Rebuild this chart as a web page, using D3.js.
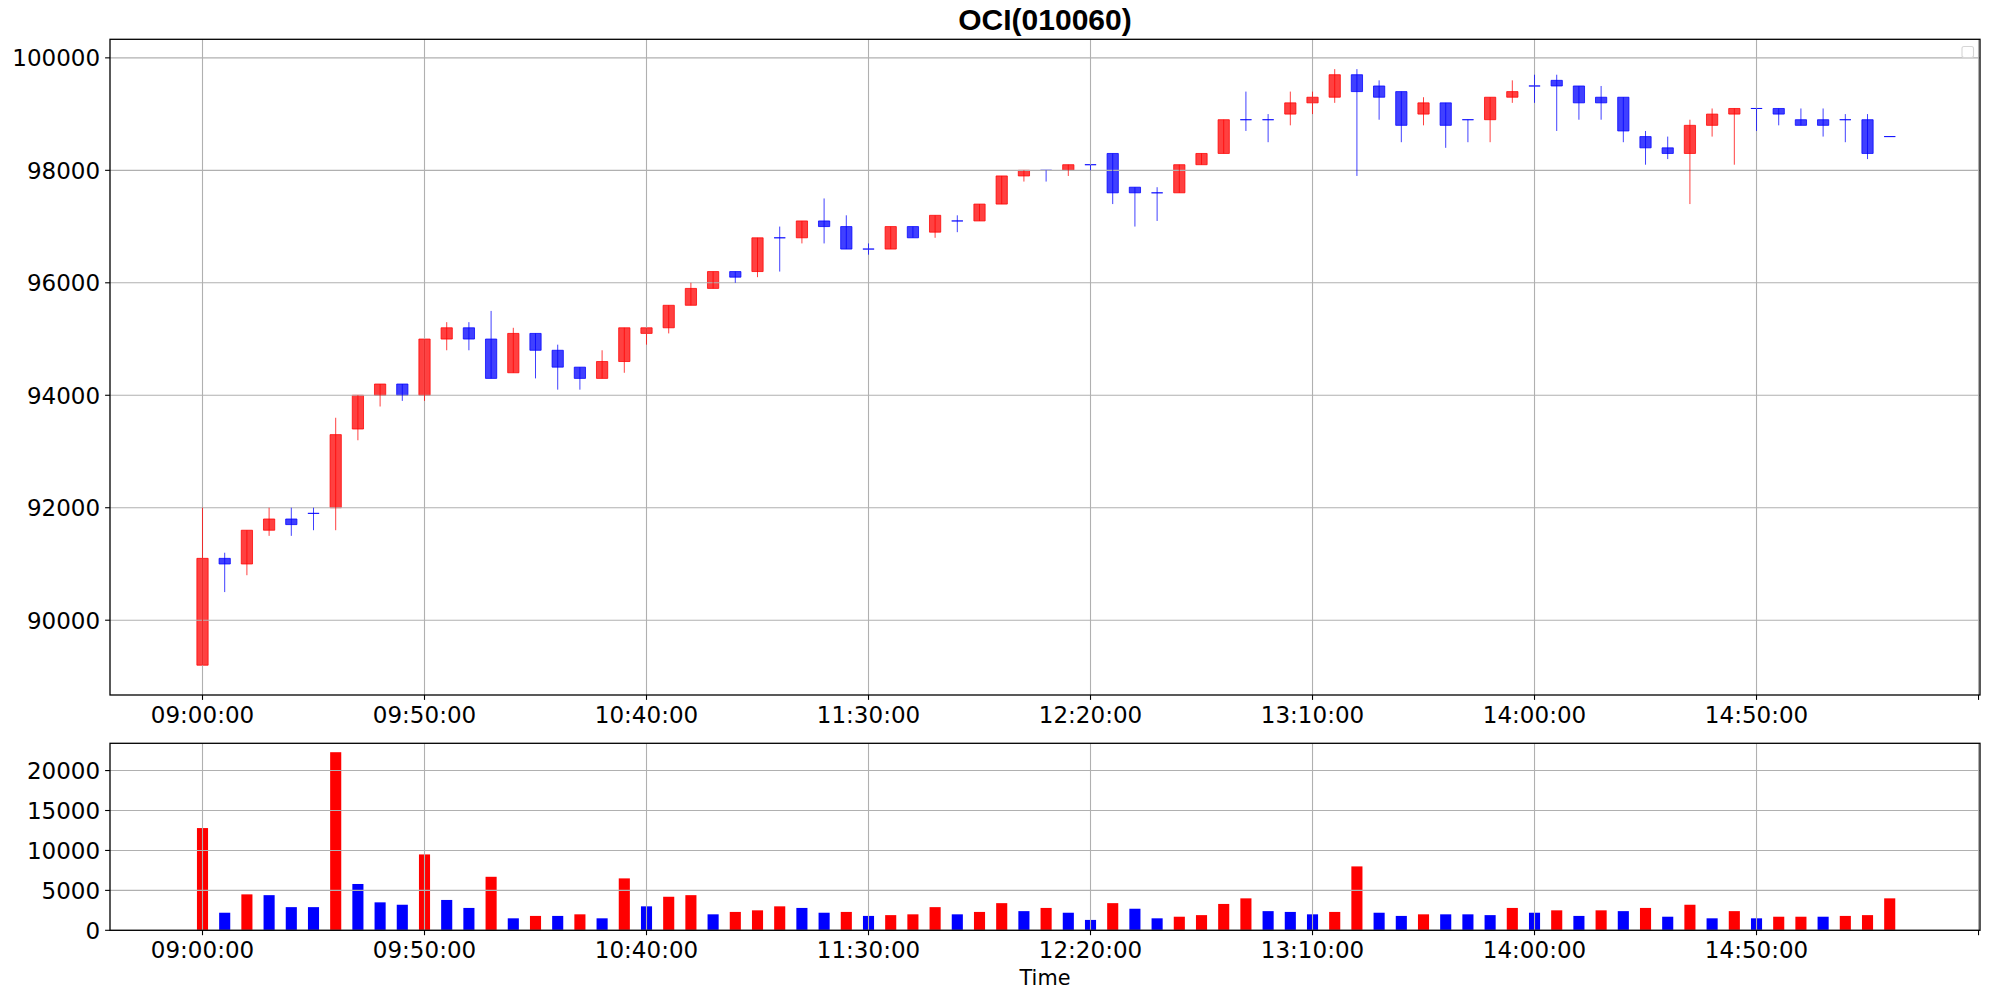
<!DOCTYPE html>
<html>
<head>
<meta charset="utf-8">
<script src="https://cdn.jsdelivr.net/npm/d3@7"></script>
<style>
  body { margin: 0; background: #fff; }
  text { font-family: "DejaVu Sans", sans-serif; fill: #000; }
</style>
</head>
<body>
<div id="chart"></div>
<script>

// 5 minute candles
var times = ["09:00","09:05","09:10","09:15","09:20","09:25","09:30","09:35","09:40","09:45",
             "09:50","09:55","10:00","10:05","10:10","10:15","10:20","10:25","10:30","10:35",
             "10:40","10:45","10:50","10:55","11:00","11:05","11:10","11:15","11:20","11:25",
             "11:30","11:35","11:40","11:45","11:50","11:55","12:00","12:05","12:10","12:15",
             "12:20","12:25","12:30","12:35","12:40","12:45","12:50","12:55","13:00","13:05",
             "13:10","13:15","13:20","13:25","13:30","13:35","13:40","13:45","13:50","13:55",
             "14:00","14:05","14:10","14:15","14:20","14:25","14:30","14:35","14:40","14:45",
             "14:50","14:55","15:00","15:05","15:10","15:15","15:20"];

var opens  = [89200,91100,91000,91600,91800,91900,92000,93400,94000,94200,
              94000,95000,95200,95000,94400,95100,94800,94500,94300,94600,
              95100,95200,95600,95900,96200,96200,96800,96800,97100,97000,
              96600,96600,97000,96900,97100,97100,97400,97900,98000,98000,
              98100,98300,97700,97600,97600,98100,98300,98900,98900,99000,
              99200,99300,99700,99500,99400,99000,99200,98900,98900,99300,
              99500,99600,99500,99300,99300,98600,98400,98300,98800,99000,
              99100,99100,98900,98900,98900,98900,98600];
var highs  = [92000,91200,91600,92000,92000,92000,93600,94000,94200,94200,
              95000,95300,95300,95500,95200,95100,94900,94500,94800,95200,
              95200,95600,96000,96200,96200,96800,97000,97100,97500,97200,
              96700,97000,97000,97200,97200,97400,97900,98000,98000,98100,
              98100,98300,97700,97700,98100,98300,98900,99400,99000,99400,
              99400,99800,99800,99600,99400,99300,99200,98900,99300,99600,
              99700,99700,99500,99500,99300,98700,98600,98900,99100,99100,
              99100,99100,99100,99100,99000,99000,98600];
var lows   = [89200,90500,90800,91500,91500,91600,91600,93200,93800,93900,
              93900,94800,94800,94300,94400,94300,94100,94100,94300,94400,
              94900,95100,95600,95900,96000,96100,96200,96700,96700,96600,
              96500,96600,96800,96800,96900,97100,97400,97800,97800,97900,
              98000,97400,97000,97100,97600,98100,98300,98700,98500,98800,
              99000,99200,97900,98900,98500,98800,98400,98500,98500,99200,
              99200,98700,98900,98900,98500,98100,98200,97400,98600,98100,
              98700,98800,98800,98600,98500,98200,98600];
var closes = [91100,91000,91600,91800,91700,91900,93300,94000,94200,94000,
              95000,95200,95000,94300,95100,94800,94500,94300,94600,95200,
              95200,95600,95900,96200,96100,96800,96800,97100,97000,96600,
              96600,97000,96800,97200,97100,97400,97900,98000,98000,98100,
              98100,97600,97600,97600,98100,98300,98900,98900,98900,99200,
              99300,99700,99400,99300,98800,99200,98800,98900,99300,99400,
              99500,99500,99200,99200,98700,98400,98300,98800,99000,99100,
              99100,99000,98800,98800,98900,98300,98600];

var volumes = [12800,2200,4500,4400,2900,2900,22300,5800,3500,3200,
               9500,3800,2800,6700,1500,1800,1800,2000,1500,6500,
               3000,4200,4400,2000,2300,2500,3000,2800,2200,2300,
               1800,1900,2000,2900,2000,2300,3400,2400,2800,2200,
               1300,3400,2700,1500,1700,1900,3300,4000,2400,2300,
               2000,2300,8000,2200,1800,2000,2000,2000,1900,2800,
               2200,2500,1800,2500,2400,2800,1700,3200,1500,2400,
               1500,1700,1700,1700,1800,1900,4000];
// colour of each volume bar as drawn (r = red, b = blue)
var volumeColors = ["r","b","r","b","b","b","r","b","b","b",
                    "r","b","b","r","b","r","b","r","b","r",
                    "b","r","r","b","r","r","r","b","b","r",
                    "b","r","r","r","b","r","r","b","r","b",
                    "b","r","b","b","r","r","r","r","b","b",
                    "b","r","r","b","b","r","b","b","b","r",
                    "b","r","b","r","b","r","b","r","b","r",
                    "b","r","r","b","r","r","r"];

var tickTimes  = ["09:00","09:50","10:40","11:30","12:20","13:10","14:00","14:50","15:40"];
var tickLabels = ["09:00:00","09:50:00","10:40:00","11:30:00","12:20:00","13:10:00","14:00:00","14:50:00",""];
var priceTicks  = [90000,92000,94000,96000,98000,100000];
var volumeTicks = [0,5000,10000,15000,20000];
var xDomain = ["08:39:10","15:40:20"];

var title = "OCI(010060)";
var xLabel = "Time";

var parseHM = d3.timeParse("%H:%M");
var parseHMS = d3.timeParse("%H:%M:%S");

var data = times.map(function(t, i) {
  return {
    date: parseHM(t), open: opens[i], high: highs[i], low: lows[i], close: closes[i],
    volume: volumes[i], vcolor: volumeColors[i] == "r" ? "#ff0000" : "#0000ff"
  };
});

var W = 1989, H = 998;
var left = 110, right = 1980;
var main = {top: 39.3, bottom: 695};
var vol = {top: 743.3, bottom: 930.3};
var gridColor = "#b0b0b0";
var tickLen = 4.9, fontSize = 23;

var svg = d3.select("#chart").append("svg")
    .attr("width", W)
    .attr("height", H);

var x = d3.scaleTime()
    .domain([parseHMS(xDomain[0]), parseHMS(xDomain[1])])
    .range([left, right]);

function halfWidth(minutes) {
  var t0 = data[0].date;
  return x(d3.timeSecond.offset(t0, minutes * 30)) - x(t0);
}

// price axis: 5% margin like matplotlib
var pMin = d3.min(lows), pMax = d3.max(highs), pPad = (pMax - pMin) * 0.05;
var y = d3.scaleLinear()
    .domain([pMin - pPad, pMax + pPad])
    .range([main.bottom, main.top]);

var yv = d3.scaleLinear()
    .domain([0, d3.max(volumes) * 1.05])
    .range([vol.bottom, vol.top]);

var tickDates = tickTimes.map(parseHM);

function drawGrid(g, yScale, yTicks, box) {
  g.selectAll(".vgrid").data(tickDates).enter().append("line")
      .attr("x1", function(d) { return x(d); })
      .attr("x2", function(d) { return x(d); })
      .attr("y1", box.top).attr("y2", box.bottom)
      .attr("stroke", gridColor).attr("stroke-width", 1.1);
  g.selectAll(".hgrid").data(yTicks).enter().append("line")
      .attr("x1", left).attr("x2", right)
      .attr("y1", function(d) { return yScale(d); })
      .attr("y2", function(d) { return yScale(d); })
      .attr("stroke", gridColor).attr("stroke-width", 1.1);
}

function drawAxes(g, yScale, yTicks, box) {
  // x ticks and labels
  g.selectAll(".xt").data(tickDates).enter().append("line")
      .attr("x1", function(d) { return x(d); })
      .attr("x2", function(d) { return x(d); })
      .attr("y1", box.bottom).attr("y2", box.bottom + tickLen)
      .attr("stroke", "#000").attr("stroke-width", 1.1);
  g.selectAll(".xl").data(tickDates).enter().append("text")
      .attr("x", function(d) { return x(d); })
      .attr("y", box.bottom + 28)
      .attr("text-anchor", "middle")
      .style("font-size", fontSize + "px")
      .text(function(d, i) { return tickLabels[i]; });
  // y ticks and labels
  g.selectAll(".yt").data(yTicks).enter().append("line")
      .attr("x1", left - tickLen).attr("x2", left)
      .attr("y1", function(d) { return yScale(d); })
      .attr("y2", function(d) { return yScale(d); })
      .attr("stroke", "#000").attr("stroke-width", 1.1);
  g.selectAll(".yl").data(yTicks).enter().append("text")
      .attr("x", left - tickLen - 5)
      .attr("y", function(d) { return yScale(d) + 8.3; })
      .attr("text-anchor", "end")
      .style("font-size", fontSize + "px")
      .text(function(d) { return d; });
  // frame
  g.append("rect")
      .attr("x", left).attr("y", box.top)
      .attr("width", right - left).attr("height", box.bottom - box.top)
      .attr("fill", "none").attr("stroke", "#000").attr("stroke-width", 1.3);
}

// ---------- candles ----------
var gMain = svg.append("g");
var bw = halfWidth(2.55);

function candleColor(d) { return d.close > d.open ? "#ff0000" : "#0000ff"; }

gMain.selectAll(".body").data(data).enter().append("path")
    .attr("d", function(d) {
      var x0 = x(d.date) - bw, x1 = x(d.date) + bw;
      var y0 = y(Math.max(d.open, d.close)), y1 = y(Math.min(d.open, d.close));
      return "M" + x0 + "," + y0 + "H" + x1 + "V" + y1 + "H" + x0 + "Z";
    })
    .attr("fill", candleColor).attr("fill-opacity", 0.75)
    .attr("stroke", candleColor).attr("stroke-opacity", 0.75)
    .attr("stroke-width", 1);

drawGrid(gMain, y, priceTicks, main);

gMain.selectAll(".wick").data(data).enter().append("line")
    .attr("x1", function(d) { return x(d.date); })
    .attr("x2", function(d) { return x(d.date); })
    .attr("y1", function(d) { return y(d.high); })
    .attr("y2", function(d) { return y(d.low); })
    .attr("stroke", candleColor).attr("stroke-opacity", 0.75)
    .attr("stroke-width", 1);

drawAxes(gMain, y, priceTicks, main);

// empty legend box in the corner
gMain.append("rect")
    .attr("x", 1962).attr("y", 46.5).attr("width", 11.5).attr("height", 11)
    .attr("rx", 2).attr("fill", "#fff")
    .attr("stroke", "#d6d6d6").attr("stroke-width", 1.1);

svg.append("text")
    .attr("x", (left + right) / 2).attr("y", 29.5)
    .attr("text-anchor", "middle")
    .style("font-family", "'Liberation Sans', Arial, sans-serif")
    .style("font-weight", "bold")
    .style("font-size", "30px")
    .text(title);

// ---------- volume ----------
var gVol = svg.append("g");
var vw = halfWidth(2.5);

gVol.selectAll(".bar").data(data).enter().append("rect")
    .attr("x", function(d) { return x(d.date) - vw; })
    .attr("width", vw * 2)
    .attr("y", function(d) { return yv(d.volume); })
    .attr("height", function(d) { return yv(0) - yv(d.volume); })
    .attr("fill", function(d) { return d.vcolor; });

drawGrid(gVol, yv, volumeTicks, vol);
drawAxes(gVol, yv, volumeTicks, vol);

svg.append("text")
    .attr("x", (left + right) / 2).attr("y", 985)
    .attr("text-anchor", "middle")
    .style("font-size", "20.8px")
    .text(xLabel);

</script>
</body>
</html>
